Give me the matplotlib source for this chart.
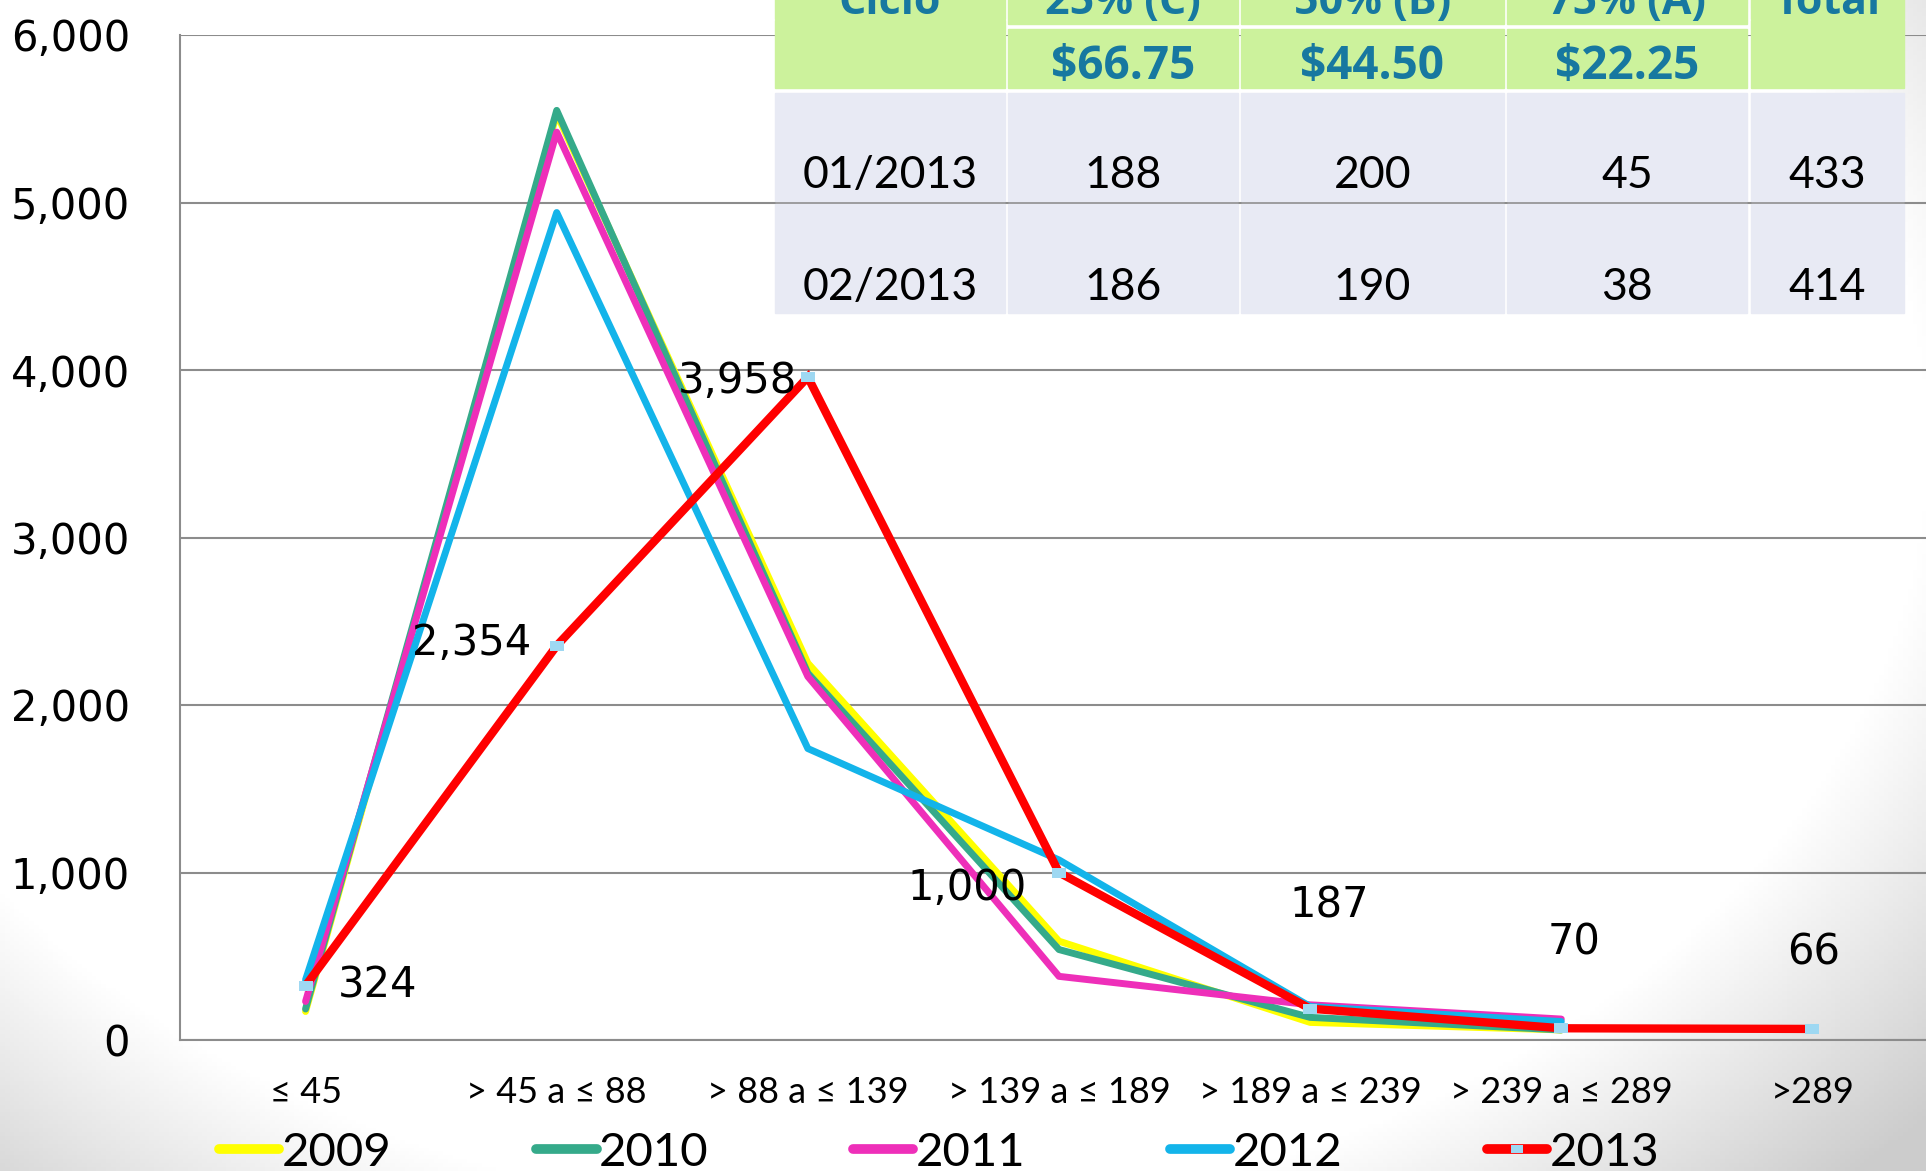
import numpy as np
import matplotlib.pyplot as plt
from matplotlib.lines import Line2D
from matplotlib.patches import Rectangle
from matplotlib.ticker import FuncFormatter

categories = ["≤ 45", "> 45 a ≤ 88", "> 88 a ≤ 139", "> 139 a ≤ 189",
              "> 189 a ≤ 239", "> 239 a ≤ 289", ">289"]
years = ["2009", "2010", "2011", "2012", "2013"]
y2009 = [170, 5530, 2250, 590, 105, 60]
y2010 = [185, 5550, 2190, 540, 135, 60]
y2011 = [230, 5420, 2170, 380, 210, 125]
y2012 = [360, 4940, 1740, 1075, 200, 110]
y2013 = [324, 2354, 3958, 1000, 187, 70, 66]
y_ticks = [0, 1000, 2000, 3000, 4000, 5000, 6000]

# tabla de descuentos (esquina superior derecha)
table_head1 = ["Ciclo", "25% (C)", "50% (B)", "75% (A)", "Total"]
table_head2 = ["", "$66.75", "$44.50", "$22.25", ""]
table_rows = [["01/2013", "188", "200", "45", "433"],
              ["02/2013", "186", "190", "38", "414"]]

colors = ["#FFFF00", "#35AA8A", "#EE2FB9", "#13B4EA", "#FF0000"]
marker_color = "#9ED8F2"
grid_color = "#8C8C8C"

W, H = 1926, 1171
fig = plt.figure(figsize=(W / 100, H / 100), dpi=100)

# fondo con degradado gris en las orillas
bg = fig.add_axes([0, 0, 1, 1], zorder=0)
gx, gy = np.meshgrid(np.linspace(0, 1, 400), np.linspace(0, 1, 300))
d = np.sqrt(((gx - 0.45) / 0.6) ** 2 + ((gy - 0.38) / 0.72) ** 2)
shade = 1 - 0.2 * np.clip((d - 0.92) / 0.3, 0, 1)
bg.imshow(np.dstack([shade] * 3), extent=(0, 1, 1, 0), aspect="auto")
bg.set_xlim(0, 1)
bg.set_ylim(1, 0)
bg.axis("off")

ax = fig.add_axes([180 / W, 131 / H, 1758 / W, 1005 / H], zorder=1)
ax.patch.set_alpha(0)

x = np.arange(len(categories))
series = [y2009, y2010, y2011, y2012]
for name, vals, c in zip(years[:4], series, colors[:4]):
    ax.plot(x[:len(vals)], vals, color=c, lw=5, label=name,
            solid_capstyle="round", solid_joinstyle="round")

rect_marker = [(-1.5, -1), (1.5, -1), (1.5, 1), (-1.5, 1), (-1.5, -1)]
ax.plot(x, y2013, color=colors[4], lw=6, label=years[4],
        marker=rect_marker, markersize=10, markerfacecolor=marker_color,
        markeredgewidth=0, solid_joinstyle="miter")

# etiquetas de la serie 2013
label_pos = [((23, 0), "left"), ((-18, 2), "right"), ((-8, -3), "right"),
             ((-23, -11), "right"), ((14, 74), "center"), ((9, 62), "center"),
             ((1, 55), "center")]
for xi, v, (off, ha) in zip(x, y2013, label_pos):
    ax.annotate(f"{v:,}", (xi, v), xytext=off, textcoords="offset points",
                ha=ha, va="center", fontsize=30, family="DejaVu Sans")

ax.set_xlim(-0.5, 6.5)
ax.set_ylim(0, 6000)
ax.set_yticks(y_ticks)
ax.yaxis.set_major_formatter(FuncFormatter(lambda v, p: f"{int(v):,}"))
ax.set_xticks(x)
ax.set_xticklabels(categories, family=["Lato", "DejaVu Sans"], fontsize=26)
ax.tick_params(axis="y", length=0, pad=36, labelsize=30)
ax.tick_params(axis="x", length=0, pad=26)
ax.grid(axis="y", color=grid_color, lw=1.5)
ax.set_axisbelow(True)
for s in ["top", "right"]:
    ax.spines[s].set_visible(False)
for s in ["left", "bottom"]:
    ax.spines[s].set_color(grid_color)
    ax.spines[s].set_linewidth(1.5)

handles = [Line2D([], [], color=c, lw=7, solid_capstyle="round") for c in colors[:4]]
handles.append(Line2D([], [], color=colors[4], lw=7, solid_capstyle="round",
                      marker=rect_marker, markersize=9,
                      markerfacecolor=marker_color, markeredgewidth=0))
ax.legend(handles, years, loc="center left", bbox_to_anchor=(219 / W, 1 - 1153 / H),
          bbox_transform=fig.transFigure, ncol=5, frameon=False,
          prop={"family": "Lato", "size": 34}, handlelength=1.28,
          handletextpad=0.05, columnspacing=3.06, borderpad=0, borderaxespad=0)

# tabla en coordenadas de pixel
tab = fig.add_axes([0, 0, 1, 1], zorder=2)
tab.set_xlim(0, W)
tab.set_ylim(H, 0)
tab.axis("off")
green, lav, head_txt = "#CCF29C", "#E8EAF4", "#1778A0"
col_edges = [(775, 1005), (1008, 1238), (1241, 1504), (1507, 1747), (1751, 1904)]
for j, (x0, x1) in enumerate(col_edges):
    cx = (x0 + x1) / 2
    merged = j in (0, 4)
    b1 = 19 if merged else 24
    t2 = 20 if merged else 29
    tab.add_patch(Rectangle((x0, -30), x1 - x0, b1 + 30, color=green))
    tab.add_patch(Rectangle((x0, t2), x1 - x0, 88 - t2, color=green))
    tab.add_patch(Rectangle((x0, 93), x1 - x0, 108, color=lav))
    tab.add_patch(Rectangle((x0, 204), x1 - x0, 109, color=lav))
    tab.text(cx, 14, table_head1[j], ha="center", va="baseline", fontsize=31,
             family="Open Sans", weight="bold", color=head_txt)
    tab.text(cx, 79, table_head2[j], ha="center", va="baseline", fontsize=33,
             family="Open Sans", weight="bold", color=head_txt)
    for row, yb in zip(table_rows, [188, 300]):
        tab.text(cx, yb, row[j], ha="center", va="baseline", fontsize=32,
                 family="Lato", color="black")

fig.savefig("out.png", dpi=100)
